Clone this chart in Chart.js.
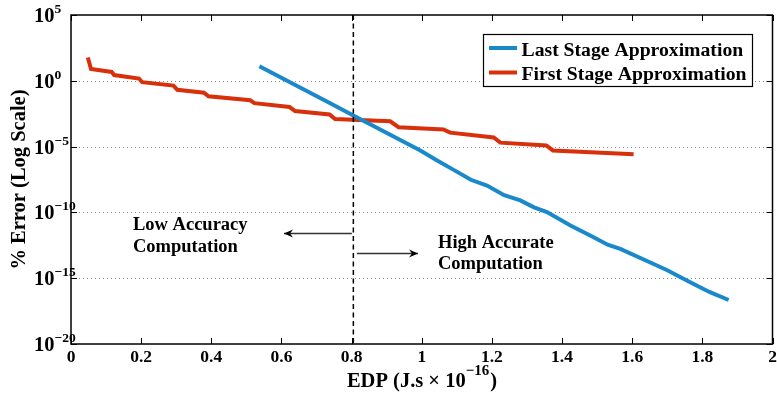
<!DOCTYPE html>
<html>
<head>
<meta charset="utf-8">
<script src="https://cdn.jsdelivr.net/npm/chart.js@4.4.0/dist/chart.umd.min.js"></script>
<style>
html,body{margin:0;padding:0;background:#fff;}
#wrap{width:777px;height:398px;}
</style>
</head>
<body>
<div id="wrap"><canvas id="c" width="777" height="398"></canvas></div>
<script>
// ---- data ----
const firstStageX = [0.048,0.057,0.116,0.123,0.194,0.203,0.292,0.303,0.379,0.392,0.511,0.523,0.623,0.639,0.737,0.753,0.910,0.934,1.062,1.081,1.205,1.224,1.355,1.374,1.604];
const firstStageY = [59,7.9,4.7,2.75,1.48,0.78,0.43,0.21,0.126,0.066,0.033,0.020,0.0102,0.0050,0.0028,0.00123,8.3e-4,3.0e-4,2.0e-4,1.15e-4,5.0e-5,2.0e-5,1.23e-5,5.1e-6,2.6e-6];
const lastStageX = [0.537,0.739,0.805,0.996,1.045,1.091,1.140,1.186,1.235,1.281,1.320,1.357,1.424,1.490,1.530,1.566,1.661,1.700,1.757,1.820,1.875];
const lastStageY = [12.6,1.95e-2,2.3e-3,5.1e-6,8.5e-7,1.7e-7,3.0e-8,1.1e-8,2.0e-9,8.1e-10,2.4e-10,1.05e-10,1.0e-11,1.3e-12,3.5e-13,1.7e-13,1.2e-14,4.0e-15,6.5e-16,9.0e-17,2.2e-17];
const xTicks = [0,0.2,0.4,0.6,0.8,1,1.2,1.4,1.6,1.8,2];
const xTickLabels = ['0','0.2','0.4','0.6','0.8','1','1.2','1.4','1.6','1.8','2'];
const yTickExps = [5,0,-5,-10,-15,-20];
const seriesNames = ['Last Stage Approximation','First Stage Approximation'];
const boundaryEDP = 0.805;

const FONT = '"Liberation Serif","Times New Roman",serif';
const BLUE = '#1a89cc';
const RED = '#d8300b';

const pts = (xs, ys) => xs.map((x,i)=>({x:x, y:ys[i]}));

const decor = {
  id:'decor',
  beforeDatasetsDraw(chart){
    const ctx = chart.ctx, a = chart.chartArea;
    const ys = chart.scales.y;
    ctx.save();
    ctx.strokeStyle = '#8a8a8a'; ctx.lineWidth = 1; ctx.setLineDash([1,3]);
    yTickExps.forEach(e=>{
      const y = Math.round(ys.getPixelForValue(Math.pow(10,e)))+0.5;
      if (y > a.top+2 && y < a.bottom-2){
        ctx.beginPath(); ctx.moveTo(a.left,y); ctx.lineTo(a.right,y); ctx.stroke();
      }
    });
    ctx.restore();
  },
  afterDatasetsDraw(chart){
    const ctx = chart.ctx, a = chart.chartArea;
    const xs = chart.scales.x, ys = chart.scales.y;
    ctx.save();
    // dashed boundary line
    const bx = xs.getPixelForValue(boundaryEDP);
    ctx.strokeStyle = '#000'; ctx.lineWidth = 1.5; ctx.setLineDash([5,3.5]);
    ctx.beginPath(); ctx.moveTo(bx,a.top); ctx.lineTo(bx,a.bottom); ctx.stroke();
    ctx.setLineDash([]);
    // box
    ctx.strokeStyle = '#000'; ctx.lineWidth = 1.5;
    ctx.strokeRect(a.left, a.top, a.right-a.left, a.bottom-a.top);
    // tick marks inside
    ctx.lineWidth = 1;
    xTicks.forEach(v=>{
      const x = Math.round(xs.getPixelForValue(v))+0.5;
      ctx.beginPath(); ctx.moveTo(x,a.bottom); ctx.lineTo(x,a.bottom-6);
      ctx.moveTo(x,a.top); ctx.lineTo(x,a.top+6); ctx.stroke();
    });
    yTickExps.forEach(e=>{
      const y = Math.round(ys.getPixelForValue(Math.pow(10,e)))+0.5;
      ctx.beginPath(); ctx.moveTo(a.left,y); ctx.lineTo(a.left+6,y);
      ctx.moveTo(a.right,y); ctx.lineTo(a.right-6,y); ctx.stroke();
    });
    // x tick labels
    ctx.fillStyle = '#000';
    ctx.font = 'bold 17.5px ' + FONT;
    ctx.textAlign = 'center'; ctx.textBaseline = 'alphabetic';
    xTicks.forEach((v,i)=>{
      ctx.fillText(xTickLabels[i], xs.getPixelForValue(v), a.bottom + 18);
    });
    // y tick labels 10^e
    ctx.textAlign = 'left';
    yTickExps.forEach(e=>{
      const y = ys.getPixelForValue(Math.pow(10,e));
      ctx.font = 'bold 20.5px ' + FONT;
      const bx0 = 34;
      ctx.fillText('10', bx0, y + 7);
      const w = ctx.measureText('10').width;
      ctx.font = 'bold 13.5px ' + FONT;
      ctx.fillText(e < 0 ? '\u2212' + Math.abs(e) : String(e), bx0 + w, y - 2);
    });
    // y title
    ctx.save();
    ctx.translate(25, (a.top + a.bottom)/2);
    ctx.rotate(-Math.PI/2);
    ctx.font = 'bold 20.5px ' + FONT;
    ctx.textAlign = 'center';
    ctx.fillText('% Error (Log Scale)', 0, 0);
    ctx.restore();
    // x title with superscript
    const p1 = 'EDP (J.s \u00d7 10', p2 = '\u221216', p3 = ')';
    ctx.font = 'bold 20.5px ' + FONT;
    const w1 = ctx.measureText(p1).width, w3 = ctx.measureText(p3).width;
    ctx.font = 'bold 15px ' + FONT;
    const w2 = ctx.measureText(p2).width;
    const total = w1 + w2 + w3 + 1;
    const sx = 422 - total/2;
    const by = 387;
    ctx.textAlign = 'left';
    ctx.font = 'bold 20.5px ' + FONT; ctx.fillText(p1, sx, by);
    ctx.font = 'bold 15px ' + FONT; ctx.fillText(p2, sx + w1, by - 12);
    ctx.font = 'bold 20.5px ' + FONT; ctx.fillText(p3, sx + w1 + w2 + 1, by);
    // annotations
    ctx.font = 'bold 18.5px ' + FONT;
    ctx.fillText('Low Accuracy', 133, 230);
    ctx.fillText('Computation', 133, 251.5);
    ctx.fillText('High Accurate', 438, 247.5);
    ctx.fillText('Computation', 438, 269);
    // arrows
    const arrow = (x1,y,x2)=>{
      ctx.strokeStyle = '#333'; ctx.lineWidth = 1.3;
      ctx.beginPath(); ctx.moveTo(x1,y); ctx.lineTo(x2,y); ctx.stroke();
      const d = Math.sign(x2-x1);
      ctx.fillStyle = '#000';
      ctx.beginPath(); ctx.moveTo(x2,y); ctx.lineTo(x2-d*9,y-4); ctx.lineTo(x2-d*6,y); ctx.lineTo(x2-d*9,y+4); ctx.closePath(); ctx.fill();
    };
    arrow(bx-1.5, 233.5, 284);
    arrow(bx+3.5, 253.5, 418);
    // legend
    ctx.fillStyle = '#fff';
    ctx.fillRect(483,34,269,52);
    ctx.strokeStyle = '#000'; ctx.lineWidth = 1.2;
    ctx.strokeRect(483.5,34.5,269,52);
    const cols = [BLUE, RED];
    const rowsY = [48, 72.5];
    seriesNames.forEach((n,i)=>{
      ctx.strokeStyle = cols[i]; ctx.lineWidth = 4;
      ctx.beginPath(); ctx.moveTo(489,rowsY[i]); ctx.lineTo(517,rowsY[i]); ctx.stroke();
      ctx.fillStyle = '#000';
      ctx.font = 'bold 19.7px ' + FONT;
      ctx.textBaseline = 'alphabetic';
      ctx.fillText(n, 521.5, rowsY[i] + 7.5);
    });
    ctx.restore();
  }
};

new Chart(document.getElementById('c'), {
  type: 'line',
  data: {
    datasets: [
      { label: seriesNames[0], data: pts(lastStageX, lastStageY), borderColor: BLUE, borderWidth: 4, pointRadius: 0, fill: false, tension: 0 },
      { label: seriesNames[1], data: pts(firstStageX, firstStageY), borderColor: RED, borderWidth: 4, pointRadius: 0, fill: false, tension: 0 }
    ]
  },
  options: {
    responsive: false,
    devicePixelRatio: 1,
    animation: false,
    layout: { padding: { left: 71, right: 4.5, top: 15, bottom: 54 } },
    plugins: { legend: { display: false }, tooltip: { enabled: false } },
    scales: {
      x: { type: 'linear', min: 0, max: 2, display: false },
      y: { type: 'logarithmic', min: 1e-20, max: 1e5, display: false }
    }
  },
  plugins: [decor]
});
</script>
</body>
</html>
